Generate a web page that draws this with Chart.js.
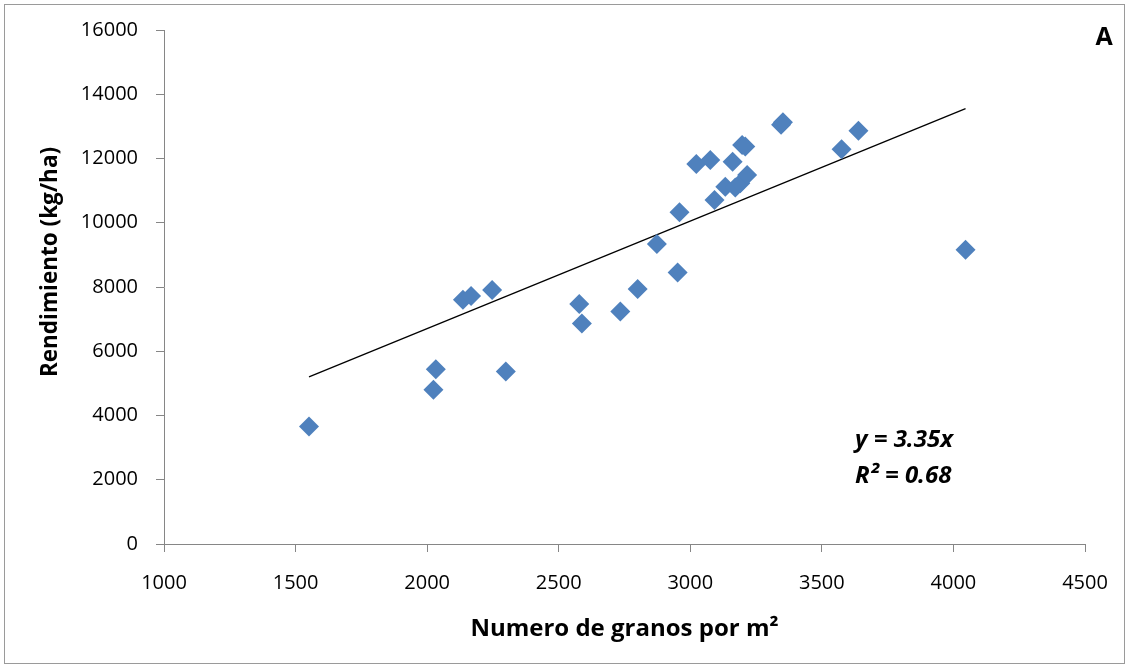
<!DOCTYPE html>
<html>
<head>
<meta charset="utf-8">
<script src="https://cdn.jsdelivr.net/npm/chart.js@4.4.1/dist/chart.umd.min.js"></script>
<style>
  html, body { margin: 0; padding: 0; background: #fff; }
  #wrap { width: 1129px; height: 668px; }
</style>
</head>
<body>
<div id="wrap"><canvas id="chart" width="1129" height="668"></canvas></div>
<script>
// Numero de granos por m2 vs rendimiento
const granos = [1551, 2024, 2033, 2136, 2167, 2247, 2299, 2578, 2588, 2734, 2800, 2873, 2952, 2959,
    3023, 3076, 3092, 3133, 3161, 3171, 3190, 3197, 3209, 3216, 3345, 3352, 3575, 3639, 4046];
const rendimiento = [3660, 4800, 5440, 7600, 7720, 7910, 5370, 7470, 6860, 7240, 7940, 9340, 8450, 10330,
    11830, 11950, 10710, 11120, 11900, 11100, 11230, 12420, 12370, 11490, 13050, 13130, 12290, 12860, 9160];

// linea de tendencia (extremos)
const trendX = [1551, 4046];
const trendY = [5200, 13550];

const xTicks = [1000, 1500, 2000, 2500, 3000, 3500, 4000, 4500];
const yTicks = [0, 2000, 4000, 6000, 8000, 10000, 12000, 14000, 16000];

const FONT = "'Open Sans', 'Liberation Sans', sans-serif";
const AXIS_GREY = '#868686';

const points = granos.map((g, i) => ({ x: g, y: rendimiento[i] }));
const trend = trendX.map((t, i) => ({ x: t, y: trendY[i] }));

// Frame, y title and annotation texts
const extras = {
    id: 'extras',
    beforeDraw(chart) {
        const ctx = chart.ctx;
        ctx.save();
        ctx.fillStyle = '#fff';
        ctx.fillRect(0, 0, chart.width, chart.height);
        ctx.strokeStyle = '#9a9a9a';
        ctx.lineWidth = 1;
        ctx.strokeRect(4.5, 4.5, 1120, 659);
        ctx.restore();
    },
    afterDraw(chart) {
        const ctx = chart.ctx;
        const a = chart.chartArea;
        ctx.save();
        ctx.fillStyle = '#000';
        ctx.textBaseline = 'middle';

        // y axis title (Excel places it a bit above the middle)
        ctx.save();
        ctx.translate(51, 262);
        ctx.rotate(-Math.PI / 2);
        ctx.textAlign = 'center';
        ctx.font = 'bold 22.5px ' + FONT;
        ctx.fillText('Rendimiento (kg/ha)', 0, 0);
        ctx.restore();

        ctx.font = 'bold 25px ' + FONT;
        ctx.textAlign = 'center';
        ctx.fillText('A', a.right + 19, 38);
        ctx.textAlign = 'left';
        ctx.font = 'italic bold 24px ' + FONT;
        ctx.fillText('y = 3.35x', a.left + 691, 440);
        ctx.fillText('R\u00b2 = 0.68', a.left + 691, 476);
        ctx.restore();
    }
};

new Chart(document.getElementById('chart'), {
    type: 'scatter',
    data: {
        datasets: [
            {
                label: 'Rendimiento',
                data: points,
                pointStyle: 'rectRot',
                pointRadius: 10,
                pointHoverRadius: 10,
                backgroundColor: '#4f81bd',
                borderColor: '#4f81bd',
                borderWidth: 0
            },
            {
                type: 'line',
                label: 'Tendencia',
                data: trend,
                borderColor: '#000',
                borderWidth: 1.3,
                pointRadius: 0,
                fill: false
            }
        ]
    },
    options: {
        responsive: false,
        animation: false,
        events: [],
        layout: { padding: { left: 0, top: 30, right: 44, bottom: 0 } },
        plugins: {
            legend: { display: false },
            tooltip: { enabled: false }
        },
        scales: {
            x: {
                type: 'linear',
                min: 1000,
                max: 4500,
                afterBuildTicks: s => { s.ticks = xTicks.map(v => ({ value: v })); },
                afterFit: s => { s.height = 124; },
                grid: { drawOnChartArea: false, drawTicks: true, tickLength: 8, color: AXIS_GREY },
                border: { display: true, color: AXIS_GREY, width: 1 },
                ticks: {
                    color: '#000',
                    font: { family: FONT, size: 20 },
                    padding: 19,
                    maxRotation: 0,
                    callback: v => String(v)
                },
                title: {
                    display: true,
                    text: 'Numero de granos por m\u00b2',
                    color: '#000',
                    font: { family: FONT, size: 24, weight: 'bold' },
                    padding: { top: 24, bottom: 24 }
                }
            },
            y: {
                min: 0,
                max: 16000,
                afterBuildTicks: s => { s.ticks = yTicks.map(v => ({ value: v })); },
                afterFit: s => { s.width = 164; },
                grid: { drawOnChartArea: false, drawTicks: true, tickLength: 8, color: AXIS_GREY },
                border: { display: true, color: AXIS_GREY, width: 1 },
                ticks: {
                    color: '#000',
                    font: { family: FONT, size: 20 },
                    padding: 18,
                    callback: v => String(v)
                },
                title: { display: false }
            }
        }
    },
    plugins: [extras]
});
</script>
</body>
</html>
